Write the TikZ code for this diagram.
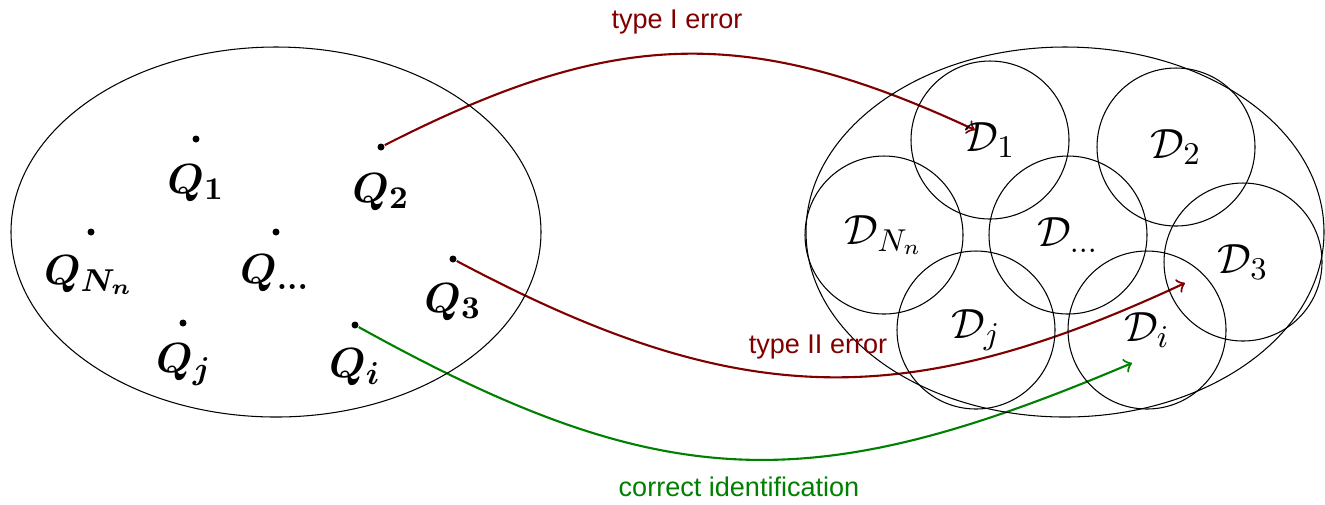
\documentclass[tikz,border=0pt]{standalone}
\usepackage{amsmath,amssymb}
\usepackage{fontspec}
\usepackage{xcolor}
\usepackage{tikz}
\usetikzlibrary{arrows,backgrounds}
\usetikzlibrary{shapes,shapes.geometric}
\usetikzlibrary{positioning}
\newfontfamily\errfont{Liberation Sans}
\pgfdeclarelayer{edgelayer}
\pgfdeclarelayer{nodelayer}
\pgfsetlayers{background,edgelayer,nodelayer,main}
\tikzstyle{none}=[inner sep=0mm]
\tikzstyle{black dot}=[inner sep=0mm,minimum size=0.07cm,fill=black,draw=none,shape=circle]
\tikzstyle{dot}=[black dot]
\tikzstyle{pool}=[draw=black,line width=0.3pt,shape=ellipse,inner sep=0mm,minimum height=3.70cm]
\tikzstyle{cell}=[draw=black,line width=0.3pt,shape=circle,inner sep=0mm,minimum size=1.58cm,font=\fontsize{12.5}{15}\selectfont]
\tikzstyle{ql}=[inner sep=0mm,font=\fontsize{12.5}{15}\selectfont]
\tikzstyle{errl}=[inner sep=0mm,text=red!50!black,font=\errfont\fontsize{7.7}{9}\selectfont]
\tikzstyle{okl}=[errl,text=green!50!black]
\tikzstyle{erredge}=[->,draw=red!50!black,line width=0.6pt]
\tikzstyle{okedge}=[->,draw=green!50!black,line width=0.6pt]

\begin{document}
\begin{tikzpicture}
	\useasboundingbox (0,0) rectangle (13.25,-5.04);
	\begin{pgfonlayer}{nodelayer}
		% the two sets
		\node [style=pool, minimum width=5.30cm] (0) at (2.76, -2.32) {};
		\node [style=pool, minimum width=5.18cm] (1) at (10.65, -2.32) {};
		% points on the left
		\node [style=dot] (2) at (1.96, -1.39) {};
		\node [style=dot] (3) at (3.81, -1.47) {};
		\node [style=dot] (4) at (0.91, -2.32) {};
		\node [style=dot] (5) at (2.76, -2.32) {};
		\node [style=dot] (6) at (4.53, -2.59) {};
		\node [style=dot] (7) at (1.83, -3.23) {};
		\node [style=dot] (8) at (3.55, -3.25) {};
		\node [style=ql] (9) at (1.96, -1.83) {$\boldsymbol{Q_1}$};
		\node [style=ql] (10) at (3.81, -1.92) {$\boldsymbol{Q_2}$};
		\node [style=ql] (11) at (0.89, -2.75) {$\boldsymbol{Q_{N_n}}$};
		\node [style=ql] (12) at (2.75, -2.73) {$\boldsymbol{Q_{...}}$};
		\node [style=ql] (13) at (4.53, -3.02) {$\boldsymbol{Q_3}$};
		\node [style=ql] (14) at (1.84, -3.65) {$\boldsymbol{Q_j}$};
		\node [style=ql] (15) at (3.55, -3.67) {$\boldsymbol{Q_i}$};
		% regions on the right
		\node [style=cell] (16) at (9.90, -1.40) {$\mathcal{D}_1$};
		\node [style=cell] (17) at (11.76, -1.47) {$\mathcal{D}_2$};
		\node [style=cell] (18) at (8.84, -2.35) {$\mathcal{D}_{N_n}$};
		\node [style=cell] (19) at (10.68, -2.35) {$\mathcal{D}_{...}$};
		\node [style=cell] (20) at (12.43, -2.62) {$\mathcal{D}_3$};
		\node [style=cell] (21) at (9.76, -3.30) {$\mathcal{D}_j$};
		\node [style=cell] (22) at (11.47, -3.30) {$\mathcal{D}_i$};
		% labels of the arrows
		\node [style=errl] (23) at (6.77, -0.22) {type I error};
		\node [style=errl] (24) at (8.18, -3.47) {type II error};
		\node [style=okl] (25) at (7.39, -4.87) {correct identification};
		\coordinate (26) at (9.75, -1.30);
		\coordinate (27) at (11.85, -2.83);
		\coordinate (28) at (11.32, -3.63);
	\end{pgfonlayer}
	\begin{pgfonlayer}{edgelayer}
		\draw [style=erredge, out=27, in=155, looseness=1.10] (3) to (26);
		\draw [style=erredge, out=-28, in=-155, looseness=1.10] (6) to (27);
		\draw [style=okedge, out=-29, in=-157, looseness=1.15] (8) to (28);
	\end{pgfonlayer}
\end{tikzpicture}
\end{document}
